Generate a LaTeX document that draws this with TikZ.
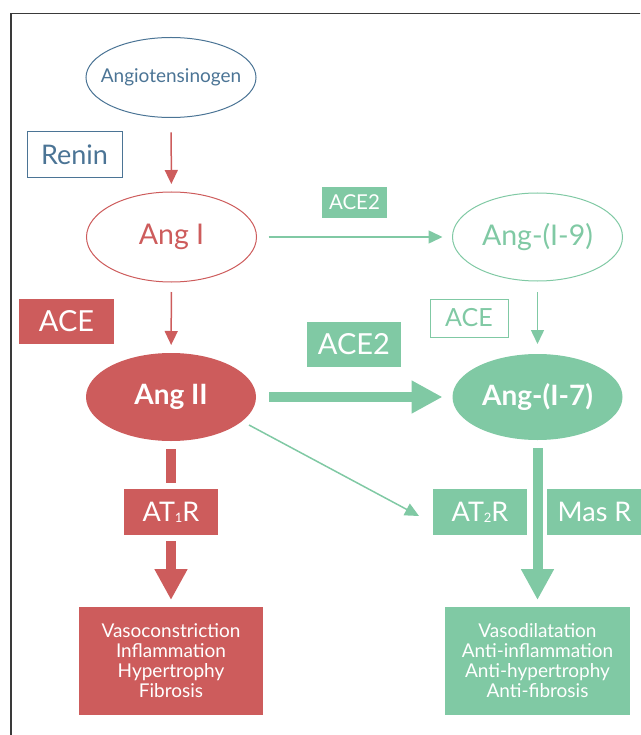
\documentclass[tikz,border=0pt]{standalone}
\usepackage{fontspec}
\setmainfont{Lato}
\usetikzlibrary{shapes.geometric,arrows.meta}
\definecolor{angred}{HTML}{CD5C5C}
\definecolor{anggreen}{HTML}{80C9A4}
\definecolor{angblue}{HTML}{4B7495}
\definecolor{framegray}{HTML}{3A3A3A}
\tikzset{
  ell/.style={ellipse, inner sep=0pt, outer sep=0pt, minimum width=170pt, minimum height=88pt, align=center},
  bx/.style={rectangle, inner sep=0pt, outer sep=0pt, align=center},
  thinarrow/.style={line width=1.5pt, -{Triangle[length=14pt,width=13pt]}},
  thickarrow/.style={line width=10pt, -{Triangle[length=31pt,width=31pt]}},
  thickbar/.style={line width=10pt},
  bigtxt/.style={font=\fontsize{28.5}{30}\selectfont},
  boldtxt/.style={font=\fontsize{28}{30}\selectfont\bfseries},
  midtxt/.style={font=\fontsize{27}{29}\selectfont},
  listtxt/.style={font=\fontsize{19}{20}\selectfont}
}
\newcommand{\subone}[1]{\raisebox{-1pt}{\fontsize{13}{13}\selectfont #1}}
\begin{document}
\begin{tikzpicture}[x=1pt,y=-1pt]
\useasboundingbox (0,0) rectangle (640,735);
\begin{scope}
\clip (0,0) rectangle (640,735);
\draw[framegray, line width=1.5pt] (11,13.5) rectangle (670,760);
\end{scope}

% nodes
\node[ell, draw=angblue, line width=1pt, inner xsep=-25pt, minimum height=80pt, text=angblue, font=\fontsize{19}{20}\selectfont] (agt) at (171,77.5) {Angiotensinogen};
\node[bx, draw=angblue, line width=1pt, minimum width=95pt, minimum height=46pt, text=angblue, font=\fontsize{27}{29}\selectfont] (renin) at (74.5,155) {Renin};

\node[ell, draw=angred, line width=1pt, text=angred, bigtxt, minimum height=90pt] (ang1) at (171.5,237) {Ang I};
\node[ell, draw=anggreen, line width=1pt, text=anggreen, bigtxt] (ang19) at (537.5,237) {Ang-(I-9)};

\node[bx, fill=angred, text=white, minimum width=95pt, minimum height=45pt, font=\fontsize{29}{30}\selectfont] (ace1) at (66.5,321.5) {ACE};
\node[bx, fill=anggreen, text=white, minimum width=65pt, minimum height=31pt, font=\fontsize{20.5}{22}\selectfont] (ace2a) at (354.5,202.5) {ACE2};
\node[bx, draw=anggreen, line width=1pt, text=anggreen, minimum width=78pt, minimum height=38pt, font=\fontsize{25}{26}\selectfont] (ace3) at (469,318) {ACE};
\node[bx, fill=anggreen, text=white, minimum width=94pt, minimum height=45pt, font=\fontsize{29}{30}\selectfont] (ace2b) at (354,344.5) {ACE2};

\node[ell, fill=angred, text=white, boldtxt] (ang2) at (171,397) {Ang II};
\node[ell, fill=anggreen, text=white, boldtxt, minimum height=86pt] (ang17) at (537.5,397) {Ang-(I-7)};

\node[bx, fill=angred, text=white, minimum width=94pt, minimum height=46pt, midtxt] (at1) at (171,512) {AT\subone{1}R};
\node[bx, fill=anggreen, text=white, minimum width=94pt, minimum height=46pt, midtxt] (at2) at (480,512) {AT\subone{2}R};
\node[bx, fill=anggreen, text=white, minimum width=95pt, minimum height=46pt, midtxt] (mas) at (594.5,512) {Mas R};

\node[bx, fill=angred, text=white, minimum width=184pt, minimum height=108pt, listtxt] (effred) at (171,661)
  {Vasoconstriction\\Inflammation\\Hypertrophy\\Fibrosis};
\node[bx, fill=anggreen, text=white, minimum width=185pt, minimum height=108pt, listtxt] (effgreen) at (537.5,661)
  {Vasodilatation\\Anti-inflammation\\Anti-hypertrophy\\Anti-fibrosis};

% connectors
\draw[thinarrow, angred, shorten <=15pt, shorten >=8pt] (agt) -- (ang1);
\draw[thinarrow, angred, shorten <=10pt, shorten >=8pt] (ang1) -- (ang2);
\draw[thinarrow, anggreen, shorten <=12pt, shorten >=10pt] (ang1.east) -- (ang19.west);
\draw[thinarrow, anggreen, shorten <=11pt, shorten >=10pt] (ang19) -- (ang17);
\draw[thickarrow, anggreen, shorten <=13pt, shorten >=10pt] (ang2.east) -- (ang17.west);
\coordinate (dstart) at (249,425);
\coordinate (dend) at (419,516);
\draw[thinarrow, anggreen] (dstart) -- (dend);
\draw[thickbar, angred, shorten <=8pt, shorten >=6pt] (ang2) -- (at1);
\draw[thickarrow, angred, shorten <=6pt, shorten >=7pt] (at1) -- (effred);
\draw[thickarrow, anggreen, shorten <=8pt, shorten >=7pt] (ang17) -- (effgreen);
\end{tikzpicture}
\end{document}
